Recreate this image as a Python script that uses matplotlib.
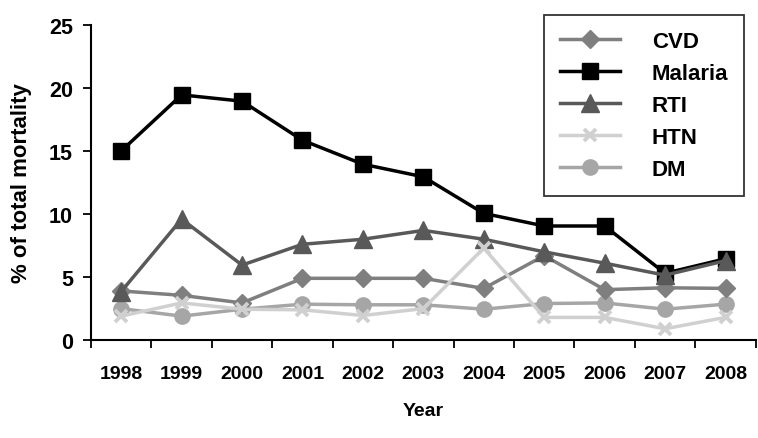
import numpy as np
import matplotlib
matplotlib.use('Agg')
import matplotlib.pyplot as plt

# Data
years = ['1998', '1999', '2000', '2001', '2002', '2003', '2004', '2005', '2006', '2007', '2008']
cvd = [3.9, 3.55, 2.95, 4.9, 4.9, 4.9, 4.1, 6.7, 4.0, 4.15, 4.1]
malaria = [15.0, 19.45, 18.95, 15.85, 13.95, 12.95, 10.05, 9.05, 9.05, 5.3, 6.45]
rti = [3.85, 9.6, 5.95, 7.6, 8.0, 8.7, 8.0, 7.0, 6.1, 5.15, 6.3]
htn = [1.9, 2.95, 2.45, 2.4, 1.95, 2.5, 7.3, 1.8, 1.8, 0.9, 1.8]
dm = [2.5, 1.9, 2.45, 2.85, 2.8, 2.8, 2.45, 2.9, 2.95, 2.45, 2.85]

plt.rcParams['font.family'] = ['Liberation Sans', 'DejaVu Sans']
plt.rcParams['font.weight'] = 'bold'

fig = plt.figure(figsize=(7.58, 4.39), dpi=100)
ax = fig.add_axes([0.120, 0.223, 0.877, 0.718])

x = np.arange(len(years))
lw = 2.5
ax.plot(x, dm, color='#a6a6a6', lw=lw, marker='o', ms=11, label='DM', zorder=2)
ax.plot(x, cvd, color='#7f7f7f', lw=lw, marker='D', ms=9.5, label='CVD', zorder=3)
ax.plot(x, malaria, color='black', lw=lw, marker='s', ms=12, label='Malaria', zorder=4)
ax.plot(x, rti, color='#595959', lw=lw, marker='^', ms=12.5, label='RTI', zorder=5)
ax.plot(x, htn, color='#d0d0d0', lw=lw, marker='x', ms=9, mew=2.8, label='HTN', zorder=6)

ax.set_xlim(-0.5, len(years) - 0.5)
ax.set_ylim(0, 25)
ax.set_yticks([0, 5, 10, 15, 20, 25])
ax.set_xticks(np.arange(-0.5, len(years), 1.0))
ax.set_xticklabels([])
ax.set_xticks(x, minor=True)
ax.set_xticklabels(years, minor=True, fontsize=14, fontweight='bold')
ax.tick_params(axis='x', which='minor', length=0, pad=18)
ax.tick_params(axis='x', which='major', length=6, width=1.3, direction='out')
ax.tick_params(axis='y', length=6, width=1.3, direction='out', labelsize=15.5, pad=7)

for s in ['top', 'right']:
    ax.spines[s].set_visible(False)
for s in ['left', 'bottom']:
    ax.spines[s].set_linewidth(1.5)

ax.set_xlabel('Year', fontsize=14, fontweight='bold', labelpad=14)
ax.set_ylabel('% of total mortality', fontsize=16, fontweight='bold', labelpad=12)

h, l = ax.get_legend_handles_labels()
order = [1, 2, 3, 4, 0]
leg = ax.legend([h[i] for i in order], [l[i] for i in order],
                loc='upper right', bbox_to_anchor=(744 / 758, 1 - 16 / 439),
                bbox_transform=fig.transFigure, borderaxespad=0,
                frameon=True, fancybox=False, edgecolor='black',
                handlelength=2.7, handletextpad=1.45, labelspacing=0.5,
                borderpad=0.7, prop={'weight': 'bold', 'size': 16})
leg.get_frame().set_linewidth(1.3)

fig.savefig('out.png', dpi=100)
